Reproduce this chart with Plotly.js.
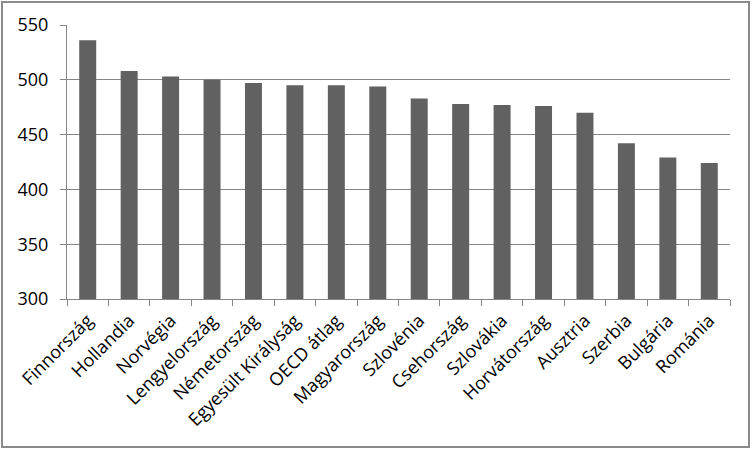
<!DOCTYPE html>
<html>
<head>
<meta charset="utf-8">
<script src="https://cdn.plot.ly/plotly-3.0.1.min.js"></script>
<style>
  html, body { margin: 0; padding: 0; background: #fff; }
  #wrap { position: relative; width: 753px; height: 451px; }
  #chart { width: 753px; height: 451px; }
  #frame { position: absolute; left: 1px; top: 1px; width: 749px; height: 447px;
           border: 2px solid #8a8a8a; box-sizing: border-box; pointer-events: none; }
</style>
</head>
<body>
<div id="wrap">
  <div id="chart"></div>
  <div id="frame"></div>
</div>
<script>
const countries = ["Finnország", "Hollandia", "Norvégia", "Lengyelország", "Németország",
  "Egyesült Királyság", "OECD átlag", "Magyarország", "Szlovénia", "Csehország",
  "Szlovákia", "Horvátország", "Ausztria", "Szerbia", "Bulgária", "Románia"];
const scores = [536, 508, 503, 500, 497, 495, 495, 494, 483, 478, 477, 476, 470, 442, 429, 424];
const yTicks = [300, 350, 400, 450, 500, 550];

const trace = {
  type: "bar",
  x: countries,
  y: scores,
  marker: { color: "#616161" },
  hoverinfo: "x+y"
};

const layout = {
  width: 753,
  height: 451,
  margin: { l: 67, r: 23, t: 25, b: 152 },
  paper_bgcolor: "#ffffff",
  plot_bgcolor: "#ffffff",
  bargap: 0.59,
  showlegend: false,
  font: { family: "Open Sans, sans-serif", size: 17, color: "#000" },
  xaxis: {
    type: "category",
    tickangle: -45,
    ticks: "outside",
    tickson: "boundaries",
    ticklen: 6,
    tickcolor: "#868686",
    showline: true,
    linecolor: "#868686",
    linewidth: 1,
    showgrid: false,
    ticklabelstandoff: 3,
    tickfont: { family: "Open Sans, sans-serif", size: 18, color: "#000" }
  },
  yaxis: {
    range: [300, 550],
    tickvals: yTicks,
    ticktext: yTicks.map(String),
    ticks: "outside",
    ticklen: 6,
    tickcolor: "#868686",
    showline: true,
    linecolor: "#868686",
    linewidth: 1,
    showgrid: true,
    gridcolor: "#868686",
    gridwidth: 1,
    zeroline: false,
    ticklabelstandoff: 8,
    tickfont: { family: "Open Sans, sans-serif", size: 18, color: "#000" }
  }
};

Plotly.newPlot("chart", [trace], layout, { displayModeBar: false, staticPlot: true });
</script>
</body>
</html>
